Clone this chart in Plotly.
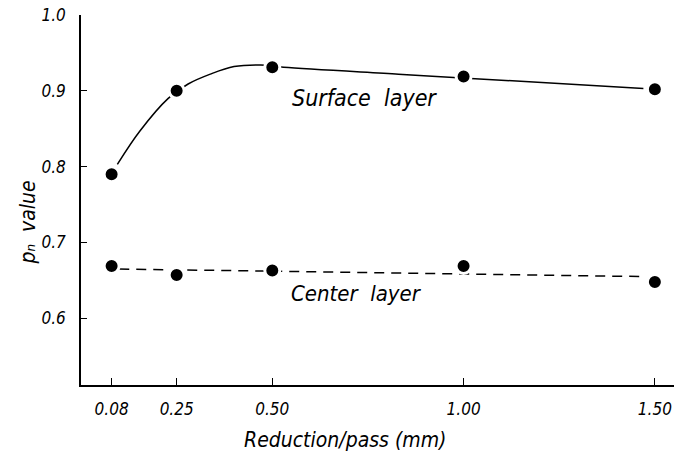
import plotly.graph_objects as go

# Data
reduction = [0.08, 0.25, 0.50, 1.00, 1.50]
surface = [0.79, 0.90, 0.931, 0.919, 0.902]
center = [0.669, 0.657, 0.663, 0.669, 0.648]

# Hand-drawn trend curves
surface_curve_x = [0.095, 0.154, 0.228, 0.28, 0.338, 0.40, 0.47, 0.53, 0.83, 1.03, 1.47]
surface_curve_y = [0.803, 0.847, 0.890, 0.909, 0.922, 0.932, 0.934, 0.931, 0.922, 0.916, 0.903]
center_line_x = [0.10, 1.47]
center_line_y = [0.665, 0.655]

x_tickvals = [0.08, 0.25, 0.50, 1.00, 1.50]
x_ticktext = ["0.08", "0.25", "0.50", "1.00", "1.50"]
y_tickvals = [0.6, 0.7, 0.8, 0.9, 1.0]
y_ticktext = ["0.6", "0.7", "0.8", "0.9", "1.0"]

FONT = "DejaVu Sans Condensed, DejaVu Sans, sans-serif"

fig = go.Figure()
fig.add_trace(go.Scatter(x=surface_curve_x, y=surface_curve_y, mode="lines",
                         line=dict(color="black", width=1.5, shape="spline", smoothing=1.0),
                         hoverinfo="skip", showlegend=False))
fig.add_trace(go.Scatter(x=center_line_x, y=center_line_y, mode="lines",
                         line=dict(color="black", width=1.5, dash="10px,7px"),
                         hoverinfo="skip", showlegend=False))
for ys in (surface, center):
    fig.add_trace(go.Scatter(x=reduction, y=ys, mode="markers",
                             marker=dict(color="black", size=15, line=dict(color="white", width=3)),
                             showlegend=False))

fig.add_annotation(x=0.741, y=0.890, text="Surface  layer", showarrow=False,
                   font=dict(family=FONT, size=23, color="black", style="italic"))
fig.add_annotation(x=0.72, y=0.633, text="Center  layer", showarrow=False,
                   font=dict(family=FONT, size=22, color="black", style="italic"))
# axis titles
fig.add_annotation(xref="paper", yref="paper", x=0.445, y=-0.149,
                   xanchor="center", yanchor="middle",
                   text="Reduction/pass (mm)", showarrow=False,
                   font=dict(family=FONT, size=21, color="black", style="italic"))
fig.add_annotation(xref="paper", yref="paper", x=-0.089, y=0.44, textangle=-90,
                   xanchor="center", yanchor="middle",
                   text="p\u2099  value", showarrow=False,
                   font=dict(family=FONT, size=21, color="black", style="italic"))

fig.update_layout(
    width=674, height=460,
    margin=dict(l=81, r=0, t=15, b=75),
    paper_bgcolor="white", plot_bgcolor="white",
    font=dict(family=FONT, size=16, color="black", style="italic"),
    xaxis=dict(range=[0, 1.55], showgrid=False, zeroline=False, automargin=False,
               showline=True, linecolor="black", linewidth=1.5,
               ticks="inside", ticklen=7, tickwidth=1.2, tickcolor="black",
               tickvals=x_tickvals, ticktext=x_ticktext, ticklabelstandoff=8,
               ticklabeloverflow="allow",
               tickfont=dict(family=FONT, size=17, style="italic")),
    yaxis=dict(range=[0.512, 1.0], showgrid=False, zeroline=False, automargin=False,
               showline=True, linecolor="black", linewidth=1.5,
               ticks="inside", ticklen=6, tickwidth=1.2, tickcolor="black",
               tickvals=y_tickvals, ticktext=y_ticktext, ticklabelstandoff=10,
               ticklabeloverflow="allow",
               tickfont=dict(family=FONT, size=17, style="italic")),
)

# remove the browser's default 8px body margin so the figure fills the window
fig.write_html("out.html", config={"displayModeBar": False},
               post_script="document.body.style.margin='0';")
